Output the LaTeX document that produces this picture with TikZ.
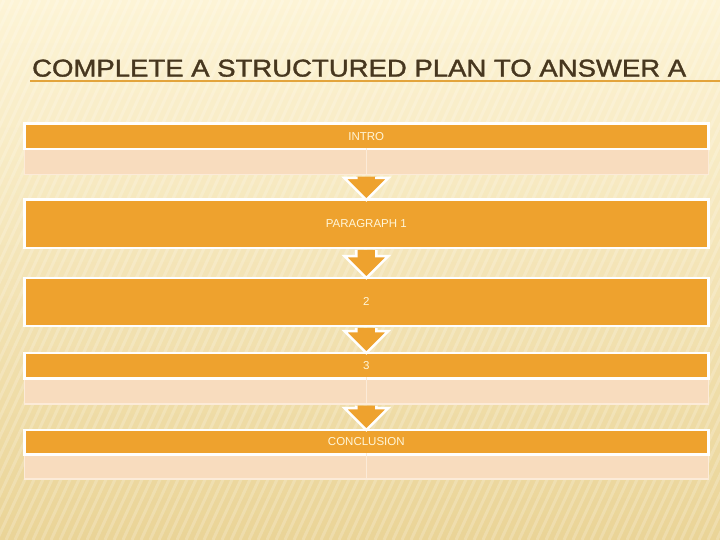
\documentclass[tikz,border=0pt]{standalone}
\usepackage{fontspec}
\setmainfont{Liberation Sans}
\newfontfamily\titlefont[FakeBold=1.3]{Liberation Sans}
\usetikzlibrary{calc}
\definecolor{bgtop}{HTML}{FDF4D6}
\definecolor{bgbot}{HTML}{EAD497}
\definecolor{boxorange}{HTML}{EEA22E}
\definecolor{peach}{HTML}{F8DCBE}
\definecolor{peachedge}{HTML}{FCEBD8}
\definecolor{lbltext}{HTML}{FFF6D8}
\definecolor{titlecol}{HTML}{47371F}
\definecolor{rulecol}{HTML}{E3A43C}
\newcommand\blockarr[2]{%
  \fill[boxorange] ($(#1)+(-10,1.2)$) -- ($(#2)+(-10,-22)$) -- ($(#2)+(-22,-22)$) -- (#2) -- ($(#2)+(22,-22)$) -- ($(#2)+(10,-22)$) -- ($(#1)+(10,1.2)$) -- cycle;
  \draw[arrowedge] ($(#1)+(-10,1.2)$) -- ($(#2)+(-10,-22)$) -- ($(#2)+(-22,-22)$) -- (#2) -- ($(#2)+(22,-22)$) -- ($(#2)+(10,-22)$) -- ($(#1)+(10,1.2)$);}
\begin{document}
\begin{tikzpicture}[x=1pt,y=-1pt,
  hdr/.style={fill=boxorange, draw=white, line width=2.5pt, minimum width=684pt, inner sep=0pt, text=lbltext, font=\fontsize{11.5}{13}\selectfont},
  sub/.style={fill=peach, draw=peachedge, line width=1.5pt, minimum width=684pt, minimum height=26pt, inner sep=0pt},
  divider/.style={draw=peachedge, line width=1pt},
  arrowedge/.style={draw=white, line width=2.5pt, line join=miter}]
\useasboundingbox (0,0) rectangle (720,540);
% background
\shade[top color=bgtop, bottom color=bgbot] (0,0) rectangle (720,540);
\begin{scope}
  \clip (0,0) rectangle (720,540);
  \foreach \i in {-300,-291,...,720}
    \draw[white, opacity=0.2, line width=3pt] (\i,540) -- (\i+250,0);
\end{scope}
% title
\node[anchor=south west, inner sep=0pt, text=titlecol] (title) at (32,77)
  {\resizebox{654pt}{17pt}{\titlefont COMPLETE A STRUCTURED PLAN TO ANSWER A}};
\coordinate (ruleL) at (30,81);
\coordinate (ruleR) at (720,81);
\draw[rulecol, line width=1.3pt] (ruleL) -- (ruleR);
% boxes
\node[sub, anchor=north] (introsub) at (366.3,148) {};
\node[hdr, minimum height=25.5pt, anchor=north] (intro) at (366.3,122.5) {INTRO};
\draw[divider] (introsub.north) -- (introsub.south);

\node[hdr, minimum height=48pt, anchor=north] (p1) at (366.3,198.5) {PARAGRAPH 1};
\node[hdr, minimum height=48pt, anchor=north] (p2) at (366.3,276.5) {2};

\node[sub, anchor=north] (p3sub) at (366.3,377) {};
\node[hdr, minimum height=25.5pt, anchor=north] (p3) at (366.3,351.5) {3};
\draw[divider] (p3sub.north) -- (p3sub.south);

\node[sub, minimum height=25pt, anchor=north] (concsub) at (366.3,453) {};
\node[hdr, minimum height=24.5pt, anchor=north] (conc) at (366.3,428.5) {CONCLUSION};
\draw[divider] (concsub.north) -- (concsub.south);
% arrows
\blockarr{introsub.south}{$(p1.north)+(0,1.5)$}
\blockarr{p1.south}{$(p2.north)+(0,1.5)$}
\blockarr{p2.south}{$(p3.north)+(0,1.5)$}
\blockarr{p3sub.south}{$(conc.north)+(0,1.5)$}
\end{tikzpicture}
\end{document}
